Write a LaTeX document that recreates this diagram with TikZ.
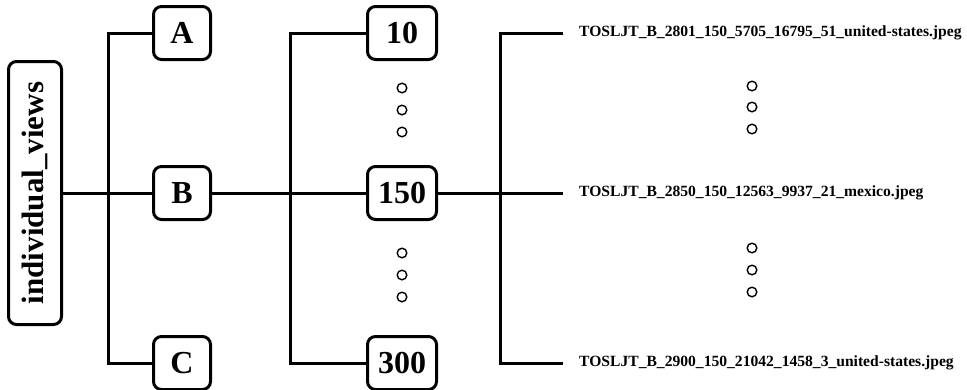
\documentclass[tikz,border=0pt]{standalone}
\usepackage{fontspec}
\setmainfont{Liberation Serif}
\tikzset{
  box/.style={draw,line width=3pt,rounded corners=8pt,minimum height=53pt,inner sep=0pt,font=\fontsize{32}{34}\selectfont\bfseries},
  fname/.style={anchor=west,inner sep=0pt,font=\fontsize{15.6}{17}\selectfont\bfseries},
  link/.style={line width=3pt}
}
\begin{document}
\begin{tikzpicture}[x=1pt,y=-1pt]
\useasboundingbox (0,0) rectangle (967,389);
% root
\node[box,rotate=90,minimum width=263pt,minimum height=53pt,font=\fontsize{31}{33}\selectfont\bfseries] (root) at (35,193) {individual\_views};
% first level
\node[box,minimum width=57pt] (A) at (182,33) {A};
\node[box,minimum width=57pt] (B) at (182,193) {B};
\node[box,minimum width=57pt] (C) at (182,363) {C};
\coordinate (j1) at (108,193);
\draw[link] (root.south) -- (B.west);
\draw[link] (A.west) -| (j1) |- (C.west);
% second level
\node[box,minimum width=69pt] (n10) at (402,33) {10};
\node[box,minimum width=69pt] (n150) at (402,193) {150};
\node[box,minimum width=69pt] (n300) at (402,363) {300};
\coordinate (j2) at (290,193);
\draw[link] (B.east) -- (n150.west);
\draw[link] (n10.west) -| (j2) |- (n300.west);
% files
\node[fname] (f1) at (579,33) {TOSLJT\_B\_2801\_150\_5705\_16795\_51\_united-states.jpeg};
\node[fname] (f2) at (579,193) {TOSLJT\_B\_2850\_150\_12563\_9937\_21\_mexico.jpeg};
\node[fname] (f3) at (579,363) {TOSLJT\_B\_2900\_150\_21042\_1458\_3\_united-states.jpeg};
\coordinate (e1) at (563,33);
\coordinate (e2) at (563,193);
\coordinate (e3) at (563,363);
\coordinate (j3) at (500,193);
\draw[link] (n150.east) -- (e2);
\draw[link] (e1) -| (j3) |- (e3);
% dots
\foreach \y in {88,110,132,253,275,297}
  \draw[line width=1.4pt] (402,\y) circle (4.8);
\foreach \y in {86,107,129,248,270,292}
  \draw[line width=1.4pt] (752,\y) circle (4.8);
\end{tikzpicture}
\end{document}
